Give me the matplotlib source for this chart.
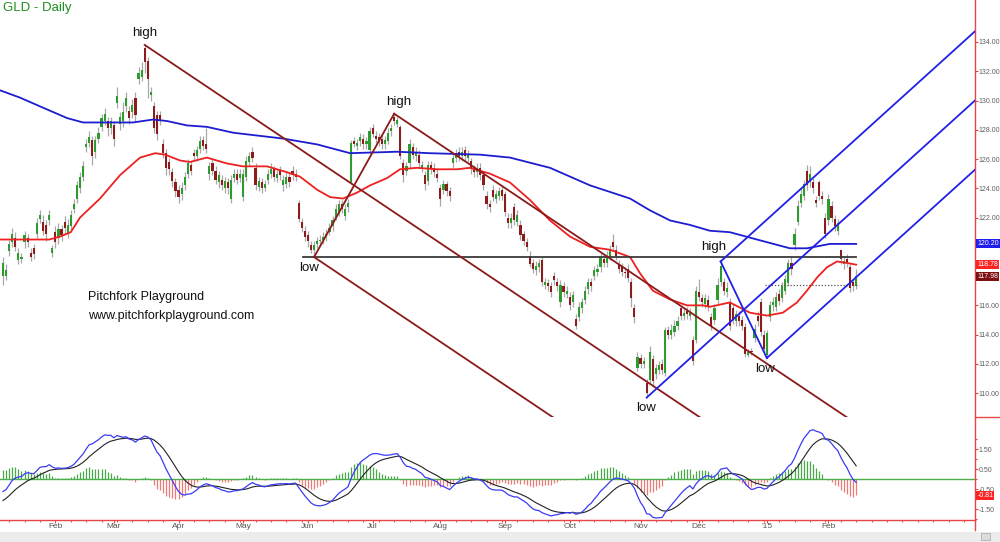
import numpy as np
import matplotlib
matplotlib.use('Agg')
import matplotlib.pyplot as plt
from matplotlib.transforms import blended_transform_factory
from matplotlib.patches import Rectangle
from matplotlib.lines import Line2D

plt.rcParams['font.family'] = ['Liberation Sans', 'DejaVu Sans']

# ---------------- data (bar index = trading day, 0 = 8 Jan 2014) ----------------
opens = [
    118.0, 118.0, 119.7, 120.3, 120.6, 119.1, 119.2, 120.3, 120.6, 119.6,
    119.9, 120.9, 121.9, 121.7, 121.5, 121.8, 119.6, 121.0, 120.6, 121.2,
    121.7, 120.9, 121.4, 122.6, 123.3, 124.0, 124.8, 126.8, 127.1, 127.3,
    126.5, 127.4, 128.2, 128.6, 128.6, 128.1, 128.3, 129.8, 128.4, 128.6,
    129.6, 129.3, 129.2, 130.2, 131.5, 131.6, 133.6, 132.7, 130.4, 129.6,
    129.0, 129.0, 127.0, 126.4, 125.8, 125.1, 124.4, 123.9, 123.6, 124.2,
    125.0, 125.6, 126.4, 126.2, 126.7, 127.3, 127.0, 125.0, 125.7, 125.2,
    124.4, 124.6, 124.0, 124.4, 123.3, 124.7, 125.0, 124.7, 123.4, 124.8,
    125.8, 126.5, 125.4, 124.1, 124.4, 124.0, 124.6, 125.0, 125.3, 124.7,
    125.2, 124.2, 124.3, 124.8, 125.2, 125.0, 123.0, 121.7, 121.1, 120.8,
    120.1, 119.8, 120.2, 120.4, 120.5, 120.7, 121.0, 121.4, 122.0, 122.4,
    122.9, 122.1, 122.7, 124.4, 127.2, 126.9, 127.2, 127.4, 127.0, 126.6,
    128.1, 127.6, 127.5, 127.4, 127.0, 127.2, 127.9, 128.9, 128.4, 128.2,
    125.7, 125.2, 125.7, 126.8, 126.2, 126.3, 125.4, 124.9, 124.5, 125.6,
    125.4, 125.0, 124.0, 123.9, 124.3, 123.8, 125.7, 126.1, 126.5, 126.2,
    126.6, 126.1, 125.9, 125.3, 125.1, 125.4, 124.9, 123.5, 122.9, 123.9,
    123.3, 123.5, 123.9, 123.6, 122.0, 121.6, 122.7, 121.7, 121.5, 120.9,
    120.3, 119.4, 118.9, 118.4, 118.6, 119.1, 117.4, 117.5, 117.3, 118.0,
    117.6, 116.2, 117.3, 116.8, 116.6, 116.2, 115.1, 115.2, 115.8, 116.4,
    117.1, 117.6, 118.0, 118.3, 118.6, 119.2, 118.9, 119.4, 120.3, 119.8,
    118.8, 118.6, 118.3, 118.5, 117.6, 115.8, 111.7, 112.4, 112.0, 110.7,
    110.9, 112.3, 111.3, 111.6, 112.0, 111.4, 114.3, 114.0, 114.2, 114.6,
    115.8, 115.3, 115.6, 115.3, 113.6, 113.6, 116.9, 116.5, 116.1, 116.4,
    115.2, 115.0, 116.4, 117.6, 117.6, 116.9, 116.2, 115.8, 114.9, 115.3,
    115.0, 114.5, 112.6, 112.9, 113.8, 115.3, 116.2, 114.0, 112.6, 115.2,
    116.0, 115.9, 116.8, 116.5, 117.0, 117.5, 118.9, 120.1, 121.7, 123.0,
    123.5, 125.2, 124.4, 124.4, 123.2, 124.4, 123.5, 122.0, 121.8, 122.8,
    121.9, 121.1, 119.8, 118.8, 119.2, 118.6, 117.6, 117.3,
]
highs = [
    119.3, 118.8, 120.5, 121.3, 121.0, 119.9, 119.6, 121.1, 120.9, 119.9,
    120.2, 122.0, 122.5, 122.2, 121.8, 122.5, 120.1, 121.4, 121.6, 121.5,
    122.1, 121.9, 122.5, 123.3, 124.5, 125.1, 125.9, 127.4, 127.9, 127.6,
    127.6, 128.2, 129.1, 129.5, 128.9, 128.9, 128.6, 130.9, 129.2, 129.9,
    130.6, 129.6, 130.1, 130.6, 132.3, 132.6, 133.8, 133.0, 130.9, 129.9,
    129.3, 129.3, 127.4, 126.7, 126.1, 125.4, 124.7, 124.2, 124.4, 125.1,
    126.0, 125.9, 126.7, 126.9, 127.6, 127.6, 128.1, 125.8, 126.0, 125.5,
    125.2, 124.9, 124.8, 124.7, 124.9, 125.3, 125.3, 125.3, 125.3, 126.2,
    126.5, 126.8, 125.7, 124.8, 124.7, 124.6, 125.3, 125.7, 125.5, 125.3,
    125.5, 124.9, 125.1, 125.1, 125.5, 125.3, 123.2, 122.0, 121.4, 121.1,
    120.4, 120.4, 120.7, 120.8, 121.0, 121.2, 121.6, 122.1, 122.9, 123.2,
    123.2, 122.9, 123.3, 127.3, 127.5, 127.4, 127.8, 127.7, 127.5, 128.2,
    128.4, 127.9, 127.8, 127.7, 127.6, 128.1, 128.4, 129.1, 128.9, 128.3,
    126.0, 125.8, 127.4, 127.1, 126.8, 126.6, 125.9, 125.2, 125.9, 125.9,
    125.7, 125.3, 124.3, 124.6, 124.5, 124.1, 126.4, 126.7, 126.8, 126.8,
    126.9, 126.6, 126.1, 125.6, 125.7, 125.7, 125.2, 123.8, 123.2, 124.2,
    123.9, 124.1, 124.2, 123.8, 122.3, 122.3, 123.0, 122.5, 121.8, 121.1,
    120.6, 119.7, 119.2, 119.0, 119.2, 119.3, 117.9, 117.8, 117.6, 118.3,
    117.9, 117.7, 117.6, 117.3, 116.9, 117.0, 115.4, 116.2, 116.5, 117.3,
    117.9, 117.9, 118.7, 118.8, 119.6, 119.5, 119.7, 120.1, 120.9, 120.1,
    119.1, 118.9, 118.6, 118.8, 117.9, 116.1, 112.8, 112.7, 112.5, 111.0,
    113.2, 112.6, 112.0, 112.2, 112.3, 114.5, 114.6, 114.7, 115.0, 115.3,
    116.0, 115.8, 115.9, 115.8, 113.9, 117.3, 117.8, 116.8, 116.8, 116.7,
    115.5, 116.1, 117.9, 119.0, 117.9, 117.6, 116.5, 116.1, 115.7, 115.6,
    115.3, 114.8, 113.0, 113.1, 114.7, 115.6, 116.5, 114.3, 114.3, 116.3,
    116.6, 116.9, 117.1, 117.6, 118.1, 119.2, 119.3, 121.3, 123.2, 124.0,
    124.6, 125.6, 125.5, 124.7, 123.5, 124.6, 123.8, 122.3, 123.6, 123.1,
    122.2, 121.9, 119.6, 119.3, 119.5, 118.8, 117.8, 118.5,
]
lows = [
    117.4, 117.7, 119.4, 120.0, 119.7, 118.8, 118.9, 119.9, 120.0, 119.0,
    119.2, 120.6, 121.6, 120.8, 120.4, 121.5, 119.3, 119.9, 120.2, 120.4,
    120.9, 120.6, 121.1, 122.3, 123.0, 123.7, 124.5, 126.5, 126.8, 125.6,
    126.1, 127.1, 127.9, 128.3, 127.6, 127.7, 126.9, 129.5, 128.0, 128.2,
    129.2, 128.4, 128.8, 128.6, 131.1, 131.3, 131.9, 130.2, 130.0, 127.8,
    127.3, 128.3, 126.1, 124.9, 124.9, 124.1, 123.4, 123.0, 123.2, 123.9,
    124.7, 124.9, 125.9, 125.9, 126.4, 126.6, 126.4, 124.6, 124.9, 124.3,
    124.0, 123.9, 123.7, 123.6, 123.0, 124.4, 124.3, 124.4, 123.1, 124.5,
    125.5, 125.8, 123.9, 123.8, 123.7, 123.8, 124.3, 124.7, 124.5, 124.4,
    124.6, 123.8, 124.0, 124.1, 124.6, 124.5, 121.7, 121.0, 120.4, 120.0,
    119.6, 119.3, 119.9, 120.1, 120.2, 120.4, 120.8, 121.1, 121.8, 122.1,
    122.3, 121.8, 122.4, 124.3, 126.8, 126.6, 126.9, 126.7, 126.7, 126.4,
    127.5, 127.1, 126.9, 126.7, 126.7, 127.0, 127.6, 128.3, 128.2, 126.0,
    124.4, 124.9, 125.4, 126.0, 125.9, 125.4, 125.1, 123.9, 124.2, 125.0,
    124.8, 124.4, 122.8, 123.6, 123.5, 123.1, 125.4, 125.8, 125.9, 125.9,
    125.9, 125.8, 125.0, 124.8, 124.8, 124.6, 123.9, 122.6, 122.4, 123.1,
    123.0, 123.2, 123.2, 122.1, 121.3, 121.3, 121.5, 121.4, 120.5, 120.1,
    119.7, 118.6, 118.2, 118.1, 118.3, 117.3, 117.1, 117.0, 116.6, 117.4,
    117.0, 115.9, 116.6, 116.5, 115.7, 115.9, 114.4, 114.9, 115.5, 116.1,
    116.8, 117.0, 117.7, 118.0, 118.3, 118.6, 118.6, 119.1, 119.7, 119.1,
    118.2, 118.0, 117.9, 117.6, 115.9, 114.8, 111.5, 111.7, 111.7, 109.7,
    110.6, 110.4, 111.0, 111.3, 111.3, 111.2, 113.7, 113.7, 113.9, 114.3,
    115.0, 115.0, 115.1, 115.0, 111.9, 113.4, 116.3, 115.9, 115.8, 115.6,
    114.3, 114.7, 116.1, 117.3, 116.7, 116.6, 114.3, 114.7, 114.6, 114.6,
    114.3, 112.5, 112.5, 112.6, 113.5, 114.6, 113.9, 112.8, 112.4, 114.9,
    115.6, 115.6, 116.0, 116.2, 116.8, 117.3, 118.1, 119.8, 121.5, 122.7,
    123.2, 123.9, 124.1, 123.7, 122.7, 123.2, 122.9, 120.6, 121.5, 121.7,
    121.1, 120.8, 118.8, 118.5, 118.6, 116.9, 117.0, 117.1,
]
closes = [
    118.9, 118.4, 120.2, 120.9, 120.0, 119.6, 119.3, 120.8, 120.3, 119.3,
    119.5, 121.6, 122.2, 121.1, 120.9, 122.2, 119.9, 120.3, 121.2, 120.8,
    121.3, 121.5, 122.2, 122.9, 124.2, 124.8, 125.5, 127.0, 127.5, 126.2,
    127.3, 127.8, 128.8, 129.1, 128.1, 128.6, 127.4, 130.3, 128.9, 129.2,
    130.2, 128.8, 129.7, 129.0, 131.9, 132.1, 132.6, 131.5, 130.6, 128.1,
    127.7, 128.6, 126.4, 125.4, 125.3, 124.5, 123.8, 123.4, 124.0, 124.8,
    125.7, 125.2, 126.2, 126.6, 127.2, 126.9, 126.7, 125.5, 125.2, 124.6,
    124.9, 124.2, 124.5, 124.0, 124.6, 125.0, 124.6, 125.0, 125.0, 125.9,
    126.2, 126.1, 124.2, 124.5, 124.0, 124.3, 125.0, 125.3, 124.8, 125.0,
    124.9, 124.6, 124.8, 124.4, 124.9, 124.8, 121.9, 121.3, 120.7, 120.4,
    119.8, 120.1, 120.4, 120.5, 120.7, 120.9, 121.3, 121.8, 122.6, 122.9,
    122.6, 122.6, 123.0, 127.1, 127.0, 127.1, 127.5, 127.0, 127.2, 127.9,
    127.7, 127.4, 127.2, 127.0, 127.3, 127.8, 128.1, 128.6, 128.7, 126.2,
    124.9, 125.5, 127.0, 126.3, 126.5, 125.7, 125.6, 124.3, 125.6, 125.3,
    125.1, 124.7, 123.3, 124.3, 123.8, 123.5, 126.1, 126.4, 126.2, 126.5,
    126.2, 126.3, 125.3, 125.1, 125.4, 124.9, 124.2, 122.9, 122.7, 123.4,
    123.6, 123.8, 123.5, 122.4, 121.6, 122.0, 121.8, 122.2, 120.8, 120.4,
    120.0, 118.8, 118.5, 118.7, 118.9, 117.6, 117.6, 117.3, 116.9, 117.7,
    117.3, 117.4, 116.9, 117.0, 116.0, 116.7, 114.6, 115.9, 116.2, 117.0,
    117.6, 117.3, 118.4, 118.5, 119.3, 118.9, 119.4, 119.8, 120.0, 119.4,
    118.5, 118.3, 118.2, 117.9, 116.5, 115.2, 112.5, 112.0, 112.2, 110.0,
    112.8, 110.8, 111.7, 111.9, 111.6, 114.3, 114.0, 114.3, 114.6, 114.9,
    115.3, 115.5, 115.4, 115.5, 112.2, 117.0, 116.6, 116.2, 116.5, 115.9,
    114.6, 115.8, 117.4, 118.7, 117.0, 117.2, 114.6, 115.0, 115.4, 114.9,
    114.6, 112.7, 112.8, 112.8, 114.4, 114.9, 114.2, 113.0, 114.1, 116.0,
    116.2, 116.6, 116.3, 117.3, 117.8, 118.9, 118.5, 120.9, 122.8, 123.6,
    124.3, 124.2, 125.0, 124.0, 123.0, 123.5, 123.3, 120.9, 123.3, 122.0,
    121.4, 121.6, 119.2, 119.0, 118.9, 117.2, 117.3, 117.98,
]
# closes before the first visible bar (only used to seed the MACD averages)
warmup_closes = [
    127.5, 128.0, 128.5, 128.0, 127.5, 127.0, 126.0, 125.5, 126.0, 125.0,
    124.5, 123.5, 124.0, 124.5, 123.0, 122.8, 123.2, 123.5, 124.0, 124.0,
    123.5, 122.8, 121.6, 120.9, 121.0, 120.3, 119.8, 119.5, 119.1, 119.6,
    118.0, 117.6, 118.9, 119.4, 119.0, 119.7, 121.2, 121.0, 119.5, 119.2,
    118.8, 118.4, 115.9, 116.0, 116.2, 116.1, 115.6, 116.3, 116.9, 115.5,
    116.4, 118.0, 118.5, 118.9, 117.8,
]

# moving averages (bar index, value)
ma_red_idx = [-1, 9, 15, 18.5, 22, 25, 31.5, 38, 44.5, 49.4, 52.6, 57.5, 60.7, 66.2,
              72.7, 77.9, 85.7, 92.2, 96.4, 102, 106.2, 110.4, 114.9, 119.2, 124.7,
              128.9, 134.4, 140.9, 147.4, 151.6, 158.1, 164.6, 171.1, 177.6, 184.1,
              190.6, 197.1, 203.6, 206.8, 211, 216.6, 222.1, 227.3, 229.5, 236,
              242.5, 248, 253.2, 257.8, 261, 264.3, 267.5, 270.8, 274, 277]
ma_red_val = [120.5, 120.5, 120.5, 120.7, 121.0, 122.0, 123.3, 124.9, 126.1, 126.4,
              126.3, 125.9, 125.8, 126.1, 125.7, 125.5, 125.5, 125.1, 124.8, 123.9,
              123.4, 123.3, 123.7, 124.2, 124.7, 125.3, 125.4, 125.3, 125.3, 125.4,
              125.0, 124.4, 123.2, 121.8, 120.7, 120.0, 119.8, 119.3, 118.2, 117.0,
              116.4, 116.0, 116.0, 115.9, 116.2, 115.5, 115.3, 115.5, 116.2, 117.0,
              117.9, 118.6, 119.0, 118.9, 118.78]
ma_blue_idx = [-1, 5.5, 12, 20.8, 26, 34.7, 42.2, 48.7, 53.2, 59.7, 66.2, 74.7, 90.9,
               102, 112.7, 127.9, 138.6, 154.9, 164.6, 177.6, 190.6, 203.6, 210,
               216.6, 223, 229.5, 236, 244.8, 255.5, 261, 268.5, 277]
ma_blue_val = [130.7, 130.2, 129.6, 128.8, 128.5, 128.5, 128.5, 128.7, 128.6, 128.3,
               128.2, 127.8, 127.4, 127.0, 126.4, 126.5, 126.4, 126.3, 126.1, 125.4,
               124.2, 123.3, 122.5, 121.8, 121.5, 121.1, 121.0, 120.5, 119.9, 119.9,
               120.2, 120.2]

month_idx = [17, 36, 57, 78, 99, 120, 142, 163, 184, 207, 226, 248, 268]
month_labels = ['Feb', 'Mar', 'Apr', 'May', 'Jun', 'Jul', 'Aug', 'Sep', 'Oct',
                'Nov', 'Dec', "'15", 'Feb']
price_ticks = [110, 112, 114, 116, 118, 120, 122, 124, 126, 128, 130, 132, 134]
hidden_price_labels = [118, 120]   # covered by the last-value boxes
macd_ticks = [1.5, 0.5, -0.5, -1.5]

pf1_idx = [46, 101, 127]          # high, low, high (brown fork)
pf1_price = [133.8, 119.3, 129.1]
pf2_idx = [209, 233, 248]         # low, high, low (blue fork)
pf2_price = [109.7, 119.0, 112.4]
hline_price = 119.3
hline_span = [97.5, 277]
dotted_price = 117.4
dotted_span = [247.5, 278]

last_blue_ma = 120.20
last_red_ma = 118.78
last_close = 117.98
last_hist = -0.81

n = len(closes)
for nm, arr in [('opens', opens), ('highs', highs), ('lows', lows)]:
    if len(arr) != n:
        raise SystemExit(f'{nm} has {len(arr)} values, closes has {n}')

# ---------------- indicators ----------------
def ema(x, span):
    a = 2.0 / (span + 1)
    out = np.empty(len(x))
    out[0] = x[0]
    for i in range(1, len(x)):
        out[i] = a * x[i] + (1 - a) * out[i - 1]
    return out

allc = np.array(warmup_closes + closes, dtype=float)
macd_all = ema(allc, 12) - ema(allc, 26)
sig_all = ema(macd_all, 9)
macd = macd_all[-n:]
sig = sig_all[-n:]
hist = macd - sig

# ---------------- figure ----------------
W, H = 1000, 542
fig = plt.figure(figsize=(10, 5.42), dpi=100)
fig.patch.set_facecolor('white')

AX_RIGHT = 975
P_BOT = 417
M_BOT = 520
ax = fig.add_axes([0, 1 - P_BOT / H, AX_RIGHT / W, P_BOT / H])
axm = fig.add_axes([0, 1 - M_BOT / H, AX_RIGHT / W, (M_BOT - P_BOT) / H])

XL = (-3 / 3.08, (AX_RIGHT - 3) / 3.08)
axis_red = '#e84545'
for a in (ax, axm):
    a.set_xlim(*XL)
    for s in ('left', 'top'):
        a.spines[s].set_visible(False)
    a.spines['right'].set_color(axis_red)
    a.spines['right'].set_linewidth(1.0)
    a.yaxis.tick_right()
    a.tick_params(axis='y', colors=axis_red, length=2.2, width=0.8, pad=0.4,
                  labelcolor='#606060', labelsize=5.0)
ax.spines['bottom'].set_visible(False)
ax.set_xticks([])
axm.spines['bottom'].set_color(axis_red)
axm.spines['bottom'].set_linewidth(1.0)

ax.set_ylim(108.37, 136.87)
ax.set_yticks(price_ticks)
ax.set_yticklabels(['' if t in hidden_price_labels else f'{t:.2f}' for t in price_ticks])

# candles
x = np.arange(n)
o = np.array(opens); c = np.array(closes)
hi = np.array(highs); lo = np.array(lows)
ax.vlines(x, lo, hi, color='#a8a8a8', lw=0.9, zorder=2)
up = c >= o
body_lo = np.minimum(o, c)
body_h = np.maximum(np.abs(c - o), 0.08)
ax.bar(x[up], body_h[up], bottom=body_lo[up], width=0.7, color='#2e9b2e',
       edgecolor='none', zorder=3)
ax.bar(x[~up], body_h[~up], bottom=body_lo[~up], width=0.7, color='#8e1b1b',
       edgecolor='none', zorder=3)

# moving averages
ax.plot(ma_blue_idx, ma_blue_val, color='#1c1cd0', lw=1.3, zorder=4)
ax.plot(ma_red_idx, ma_red_val, color='#ee2020', lw=1.3, zorder=4)

# horizontal line and dotted line
ax.plot(hline_span, [hline_price, hline_price], color='#3a3a3a', lw=1.3, zorder=4)
ax.plot(dotted_span, [dotted_price, dotted_price], color='#555555', lw=0.9,
        ls=(0, (1, 1.5)), zorder=4)

# pitchforks
def pitchfork(a, idx, pr, color):
    (ia, ib, ic), (pa, pb, pc) = idx, pr
    im, pm = (ib + ic) / 2.0, (pb + pc) / 2.0
    s = (pm - pa) / (im - ia)
    xe = 330
    for i0, p0 in ((ia, pa), (ib, pb), (ic, pc)):
        a.plot([i0, xe], [p0, p0 + s * (xe - i0)], color=color, lw=1.3, zorder=5)
    a.plot([ib, ic], [pb, pc], color=color, lw=1.3, zorder=5)

pitchfork(ax, pf1_idx, pf1_price, '#8b1a1a')
pitchfork(ax, pf2_idx, pf2_price, '#2020e8')

# labels
lab = dict(fontsize=9.5, color='#111111', ha='center', va='center', zorder=6)
ax.text(46.1, 134.6, 'high', **lab)
ax.text(99.4, 118.55, 'low', **lab)
ax.text(128.6, 129.9, 'high', **lab)
ax.text(208.8, 109.0, 'low', **lab)
ax.text(230.8, 120.0, 'high', **lab)
ax.text(247.4, 111.65, 'low', **lab)
ax.text(27.6, 116.6, 'Pitchfork Playground', fontsize=9, color='#111111',
        ha='left', va='center')
ax.text(27.6, 115.25, 'www.pitchforkplayground.com', fontsize=9, color='#111111',
        ha='left', va='center')

fig.text(3 / W, 1 - 8 / H, 'GLD - Daily', color='#1f8f1f', fontsize=9.5,
         ha='left', va='center')

# last-value boxes on the price scale
tr = blended_transform_factory(ax.transAxes, ax.transData)
for val, fc in ((last_blue_ma, '#1e1ef0'), (last_red_ma, '#ff2424'),
                (last_close, '#7d1010')):
    ax.text(1.0025, val, f'{val:.2f}', transform=tr, fontsize=5.0, color='white',
            ha='left', va='center', clip_on=False,
            bbox=dict(boxstyle='square,pad=0.15', fc=fc, ec='none'))

# ---------------- MACD panel ----------------
axm.set_ylim(-2.05, 3.1)
axm.set_yticks(macd_ticks)
axm.set_yticklabels([f'{t:.2f}' for t in macd_ticks])
axm.set_yticks([2.0, 1.0, 0.0, -1.0, -2.0], minor=True)
axm.tick_params(axis='y', which='minor', colors=axis_red, length=1.6, width=0.8)
pos = hist >= 0
axm.vlines(x[pos], 0, hist[pos], color='#49a849', lw=0.9)
axm.vlines(x[~pos], 0, hist[~pos], color='#f07878', lw=0.9)
axm.axhline(0, color='#4cae4c', lw=1.0)
axm.plot(x, sig, color='#222222', lw=0.8)
axm.plot(x, macd, color='#3b3bf5', lw=0.9)
trm = blended_transform_factory(axm.transAxes, axm.transData)
axm.text(1.0025, last_hist, f'{last_hist:.2f}', transform=trm, fontsize=5.0,
         color='white', ha='left', va='center', clip_on=False,
         bbox=dict(boxstyle='square,pad=0.15', fc='#ff2424', ec='none'))

axm.set_xticks(month_idx)
axm.set_xticklabels(month_labels)
axm.set_xticks(np.arange(2, 316, 5), minor=True)
axm.tick_params(axis='x', which='major', colors=axis_red, length=2.2, width=0.8,
                pad=0.3, labelcolor='#555555', labelsize=6.0)
axm.tick_params(axis='x', which='minor', colors=axis_red, length=1.6, width=0.7)

# separator on the scale strip and bottom scroll strip
fig.add_artist(Line2D([AX_RIGHT / W, 1], [1 - P_BOT / H, 1 - P_BOT / H],
                      transform=fig.transFigure, color=axis_red, lw=1.0))
fig.add_artist(Line2D([AX_RIGHT / W, AX_RIGHT / W], [1 - 530 / H, 1 - M_BOT / H],
                      transform=fig.transFigure, color=axis_red, lw=1.0))
fig.patches.append(Rectangle((0, 0), 1, 10 / H, transform=fig.transFigure,
                             fc='#ececec', ec='none', zorder=0))
fig.patches.append(Rectangle((981 / W, 2 / H), 9 / W, 7 / H, transform=fig.transFigure,
                             fc='#dcdcdc', ec='#b0b0b0', lw=0.6, zorder=1))

fig.savefig('out.png', dpi=100)
